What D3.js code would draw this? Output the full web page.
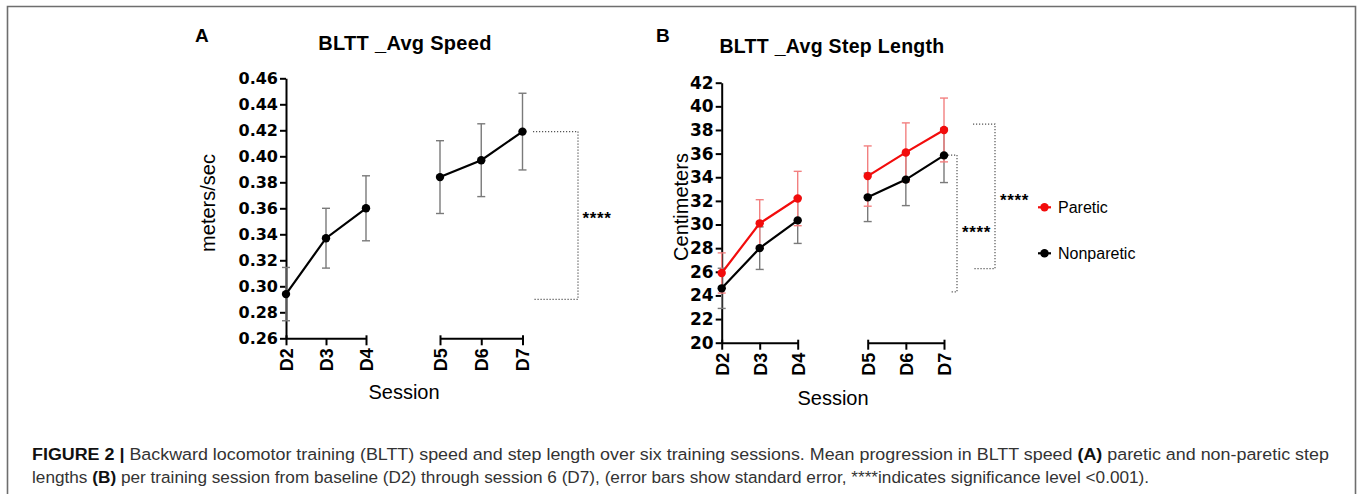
<!DOCTYPE html>
<html><head><meta charset="utf-8">
<script src="https://cdn.jsdelivr.net/npm/d3@7"></script>
<style>body{margin:0;background:#fff;} svg{display:block}</style>
</head><body>
<svg id="c" width="1357" height="494"></svg>
<script>
// ---------- data ----------
const groupOne = ["D2","D3","D4"];
const groupTwo = ["D5","D6","D7"];
const sessions = ["D2","D3","D4","D5","D6","D7"];
const speedMean = [0.294,0.337,0.360,0.384,0.397,0.419];
const speedSE   = [0.0205,0.023,0.025,0.028,0.028,0.0295];
const speedTicks = [0.26,0.28,0.30,0.32,0.34,0.36,0.38,0.40,0.42,0.44,0.46];
const pareticMean = [25.9,30.1,32.2,34.1,36.1,38.0];
const pareticSE   = [1.7,2.0,2.3,2.55,2.5,2.7];
const nonpareticMean = [24.6,28.0,30.35,32.3,33.8,35.85];
const nonpareticSE   = [1.7,1.8,1.95,2.05,2.2,2.3];
const stepTicks = [20,22,24,26,28,30,32,34,36,38,40,42];
const sigA = [{lo:0.290, hi:0.419, label:"****"}];
const sigB = [{lo:24.3, hi:35.88, label:"****"},{lo:26.26, hi:38.5, label:"****"}];
const legendLabels = ["Paretic","Nonparetic"];
const captionLine1 = [["FIGURE 2 | ",true],["Backward locomotor training (BLTT) speed and step length over six training sessions. Mean progression in BLTT speed ",false],["(A)",true],[" paretic and non-paretic step",false]];
const captionLine2 = [["lengths ",false],["(B)",true],[" per training session from baseline (D2) through session 6 (D7), (error bars show standard error, ****indicates significance level <0.001).",false]];

const svg = d3.select("#c");
svg.append("rect").attr("width",1357).attr("height",494).attr("fill","#fff");
svg.append("path").attr("d","M7.5,500 V6.5 H1355.5 V500").attr("fill","none").attr("stroke","#6e6e6e").attr("stroke-width",1.6);

const RED = "#f20c0c", RED_ERR = "#f28080", BLK = "#000", BLK_ERR = "#7a7a7a";

function panel(cfg){
  const g = svg.append("g");
  const y = d3.scaleLinear().domain(cfg.yDomain).range(cfg.yRange);
  const x1 = d3.scalePoint().domain(groupOne).range(cfg.x1Range);
  const x2 = d3.scalePoint().domain(groupTwo).range(cfg.x2Range);
  const xOf = s => groupOne.includes(s) ? x1(s) : x2(s);
  const yBottom = cfg.yRange[0];

  g.append("text").attr("x",cfg.letterX).attr("y",cfg.letterY).text(cfg.letter)
    .attr("font-family","Liberation Sans, Arial").attr("font-weight","bold").attr("font-size",19);
  g.append("text").attr("x",cfg.titleX).attr("y",cfg.titleY).attr("text-anchor","middle").text(cfg.title)
    .attr("font-family","Liberation Sans, Arial").attr("font-weight","bold").attr("font-size",cfg.titleSize)
    .attr("letter-spacing",0.3);

  const ya = g.append("g").attr("transform",`translate(${cfg.x1Range[0]},0)`)
    .call(d3.axisLeft(y).tickValues(cfg.ticks).tickSize(6).tickSizeOuter(0).tickPadding(2).tickFormat(cfg.fmt));
  ya.select(".domain").attr("stroke","#000").attr("stroke-width",2);
  ya.selectAll(".tick line").attr("stroke","#000").attr("stroke-width",2);
  ya.selectAll(".tick text").attr("font-family","DejaVu Sans").attr("font-weight","bold")
    .attr("font-size",cfg.tickSize).attr("fill","#000");

  [[x1,groupOne],[x2,groupTwo]].forEach(([sc,dom])=>{
    const xa = g.append("g").attr("transform",`translate(0,${yBottom})`)
      .call(d3.axisBottom(sc).tickSize(7).tickSizeOuter(0));
    xa.select(".domain").attr("stroke","#000").attr("stroke-width",2);
    xa.selectAll(".tick line").attr("stroke","#000").attr("stroke-width",2).attr("y1",-3);
    xa.selectAll(".tick").filter((d,i)=>i===1).select("line").attr("y1",0);
    xa.selectAll(".tick text").attr("transform","rotate(-90)")
      .attr("x",-10).attr("y",0).attr("dy","0.36em").attr("text-anchor","end")
      .attr("font-family","Liberation Sans, Arial").attr("font-weight","bold").attr("font-size",18).attr("fill","#000");
  });

  g.append("text").attr("transform",`translate(${cfg.yLabelX},${cfg.yLabelY}) rotate(-90)`)
    .attr("text-anchor","middle").attr("dy","0.35em").text(cfg.yLabel)
    .attr("font-family","Liberation Sans, Arial").attr("font-size",20);
  g.append("text").attr("x",cfg.xLabelX).attr("y",cfg.xLabelY).attr("text-anchor","middle").attr("dy","0.35em")
    .text("Session").attr("font-family","Liberation Sans, Arial").attr("font-size",20);

  cfg.series.forEach(s=>{
    const pts = sessions.map((d,i)=>({s:d, m:s.mean[i], e:s.se[i]}));
    const eb = g.append("g");
    pts.forEach(p=>{
      const cx = xOf(p.s);
      eb.append("line").attr("x1",cx).attr("x2",cx).attr("y1",y(p.m-p.e)).attr("y2",y(p.m+p.e))
        .attr("stroke",s.errColor).attr("stroke-width",1.4);
      [p.m-p.e,p.m+p.e].forEach(v=>eb.append("line").attr("x1",cx-4).attr("x2",cx+4).attr("y1",y(v)).attr("y2",y(v))
        .attr("stroke",s.errColor).attr("stroke-width",1.4));
    });
  });
  cfg.series.forEach(s=>{
    const pts = sessions.map((d,i)=>({s:d, m:s.mean[i]}));
    const line = d3.line().x(p=>xOf(p.s)).y(p=>y(p.m));
    [pts.slice(0,3),pts.slice(3)].forEach(seg=>{
      g.append("path").attr("d",line(seg)).attr("fill","none").attr("stroke",s.color).attr("stroke-width",2.2);
    });
    g.selectAll(null).data(pts).enter().append("circle")
      .attr("cx",p=>xOf(p.s)).attr("cy",p=>y(p.m)).attr("r",4.2).attr("fill",s.color);
  });

  const x7 = x2("D7");
  cfg.sig.forEach((b,i)=>{
    const o = cfg.sigOffsets[i];
    const yt = y(b.hi), yb = y(b.lo);
    g.append("path").attr("d",`M${x7+o.t0},${yt} H${x7+o.v} V${yb} H${x7+o.b0}`)
      .attr("fill","none").attr("stroke","#555").attr("stroke-width",1.2).attr("stroke-dasharray","1.2,1.8");
    g.append("text").attr("x",x7+o.tx).attr("y",(yt+yb)/2+o.ty).text(b.label)
      .attr("font-family","Liberation Sans, Arial").attr("font-weight","bold").attr("font-size",17).attr("letter-spacing",0.6);
  });

  if (cfg.legend){
    cfg.legend.order.forEach((si,i)=>{
      const s = cfg.series[si];
      const ly = cfg.legend.y0 + i*cfg.legend.dy;
      g.append("line").attr("x1",cfg.legend.x).attr("x2",cfg.legend.x+13).attr("y1",ly).attr("y2",ly)
        .attr("stroke",s.color).attr("stroke-width",2.2);
      g.append("circle").attr("cx",cfg.legend.x+6.5).attr("cy",ly).attr("r",4.2).attr("fill",s.color);
      g.append("text").attr("x",cfg.legend.x+20).attr("y",ly).attr("dy","0.35em").text(legendLabels[i])
        .attr("font-family","Liberation Sans, Arial").attr("font-size",16);
    });
  }
}

panel({
  letter:"A", letterX:195, letterY:42, title:"BLTT _Avg Speed", titleX:405, titleY:50, titleSize:20,
  yDomain:[0.26,0.46], yRange:[338.3,78.3], x1Range:[286,366], x2Range:[440,522.5],
  ticks:speedTicks, fmt:d3.format(".2f"), tickSize:16,
  yLabel:"meters/sec", yLabelX:208, yLabelY:203, xLabelX:404, xLabelY:392,
  series:[{mean:speedMean, se:speedSE, color:BLK, errColor:BLK_ERR}],
  sig:sigA, sigOffsets:[{t0:10.5,v:55.5,b0:10.5,tx:60,ty:9}]
});
panel({
  letter:"B", letterX:656, letterY:42, title:"BLTT _Avg Step Length", titleX:832, titleY:53, titleSize:19.5,
  yDomain:[20,42], yRange:[342.7,82.7], x1Range:[721.7,797.7], x2Range:[867.7,944],
  ticks:stepTicks, fmt:d3.format("d"), tickSize:17,
  yLabel:"Centimeters", yLabelX:681, yLabelY:207, xLabelX:833, xLabelY:398,
  series:[{mean:nonpareticMean, se:nonpareticSE, color:BLK, errColor:BLK_ERR},
          {mean:pareticMean, se:pareticSE, color:RED, errColor:RED_ERR}],
  sig:sigB, sigOffsets:[{t0:4,v:13,b0:7,tx:18,ty:15},{t0:29,v:51,b0:29,tx:56,ty:10}],
  legend:{x:1038, y0:207.3, dy:46, order:[1,0]}
});

function caption(parts, yb, targetW){
  const t = svg.append("text").attr("x",0).attr("y",0)
    .attr("font-family","Liberation Sans Narrow, Liberation Sans, Arial").attr("font-size",17).attr("fill","#333");
  parts.forEach(([s,b])=>t.append("tspan").text(s).attr("font-weight",b?"bold":"normal").attr("fill",b?"#111":"#333"));
  const w = t.node().getComputedTextLength();
  t.attr("transform",`translate(32,${yb}) scale(${targetW/w},1)`);
}
caption(captionLine1, 460, 1298);
caption(captionLine2, 483, 1118);
</script>
</body></html>
